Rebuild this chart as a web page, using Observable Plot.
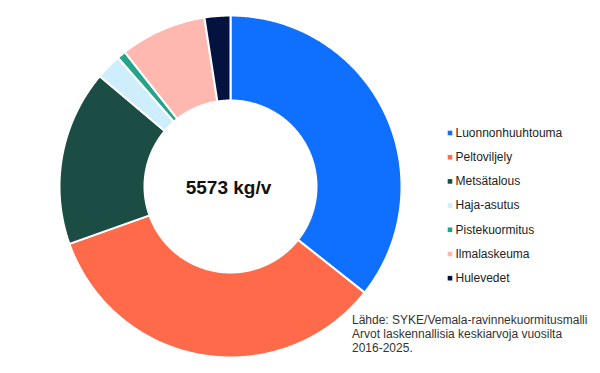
<!DOCTYPE html>
<html>
<head>
<meta charset="utf-8">
<script src="https://cdn.jsdelivr.net/npm/d3@7"></script>
<script src="https://cdn.jsdelivr.net/npm/@observablehq/plot@0.6"></script>
<style>
  html, body { margin: 0; padding: 0; background: #fff; }
  svg { display: block; }
</style>
</head>
<body>
<div id="chart"></div>
<script>
// Data (kg/v)
const categories = ["Luonnonhuuhtouma", "Peltoviljely", "Metsätalous", "Haja-asutus", "Pistekuormitus", "Ilmalaskeuma", "Hulevedet"];
const values = [1987, 1889, 925, 135, 46, 455, 136];
const colors = ["#0f6fff", "#ff6b4a", "#1b4d45", "#cdeefa", "#22a38a", "#ffb8b0", "#03123f"];
const unit = "kg/v";
const sourceLines = [
  "Lähde: SYKE/Vemala-ravinnekuormitusmalli",
  "Arvot laskennallisia keskiarvoja vuosilta",
  "2016-2025."
];

const total = d3.sum(values);
const R = 171, r = 86;
const arcs = d3.pie().sort(null).value(d => d)(values);

// Build slice polygons from the pie angles
const pts = [];
arcs.forEach((a, i) => {
  const name = categories[i];
  const n = Math.max(2, Math.ceil((a.endAngle - a.startAngle) / 0.01));
  for (let k = 0; k <= n; k++) {
    const t = a.startAngle + (a.endAngle - a.startAngle) * k / n;
    pts.push({name, x: R * Math.sin(t), y: -R * Math.cos(t)});
  }
  for (let k = n; k >= 0; k--) {
    const t = a.startAngle + (a.endAngle - a.startAngle) * k / n;
    pts.push({name, x: r * Math.sin(t), y: -r * Math.cos(t)});
  }
});

const legendX = 219.5, legendY0 = -53.5, legendStep = 24.2;
const font = "'Liberation Sans', Arial, Helvetica, sans-serif";

const chart = Plot.plot({
  width: 600,
  height: 373,
  margin: 0,
  style: {fontFamily: font, background: "#fff"},
  x: {domain: [-230, 370], range: [0, 600], axis: null},
  y: {domain: [-186, 187], range: [0, 373], axis: null},
  color: {domain: categories, range: colors},
  marks: [
    Plot.line(pts, {x: "x", y: "y", z: "name", fill: "name", stroke: "white", strokeWidth: 2, curve: "linear-closed"}),
    Plot.text([`${total} ${unit}`], {x: () => -2, y: () => 1, text: d => d, fontSize: 19, fontWeight: "bold", fill: "#111", textAnchor: "middle"}),
    Plot.dot(categories, {x: () => legendX, y: (d, i) => legendY0 + i * legendStep, symbol: "square", r: 2.6, fill: d => d, stroke: null}),
    Plot.text(categories, {x: () => legendX + 5.5, y: (d, i) => legendY0 + i * legendStep, text: d => d, textAnchor: "start", fontSize: 12, fill: "#222"}),
    Plot.text([sourceLines.join("\n")], {x: () => 121.5, y: () => 127, text: d => d, textAnchor: "start", lineAnchor: "top", lineHeight: 1.18, fontSize: 12, fill: "#333"})
  ]
});
document.getElementById("chart").append(chart);
</script>
</body>
</html>
